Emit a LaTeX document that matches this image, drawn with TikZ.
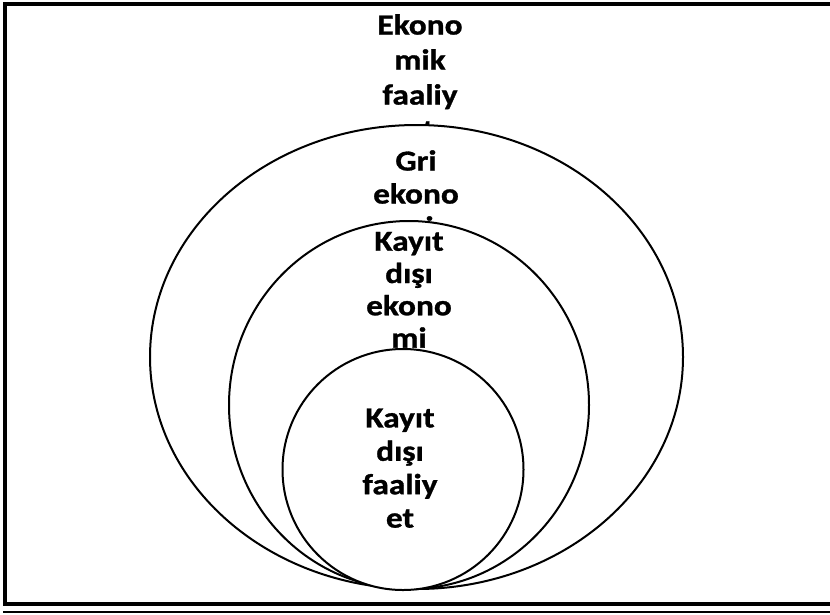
\documentclass[tikz,border=0pt]{standalone}
\usepackage{fontspec}
\setmainfont{Carlito}[BoldFeatures={FakeStretch=1.15,FakeBold=1}]
\begin{document}
\begin{tikzpicture}[x=1pt,y=-1pt,
  ell/.style={draw, line width=2pt, fill=white},
  lbl/.style={font=\bfseries\fontsize{29}{33.4}\selectfont, align=center, inner sep=0pt, anchor=north},
  frame/.style={line width=4pt}]
\useasboundingbox (0,0) rectangle (830,614);
\draw[frame] (834,4) -- (5,4) -- (5,603.7) -- (834,603.7);
\draw[line width=2pt] (3,612) -- (834,612);
\node[lbl, font=\bfseries\fontsize{29}{35}\selectfont] (t1) at (420,14) {Ekono\\mik\\faaliy\\et};
\draw[ell] (416.5,357) ellipse [x radius=266.5, y radius=232];
\node[lbl, font=\bfseries\fontsize{29}{33}\selectfont] (t2) at (416,150) {Gri\\ekono\\mi};
\draw[ell] (409,405) ellipse [x radius=180, y radius=184];
\node[lbl, font=\bfseries\fontsize{29}{32.3}\selectfont] (t3) at (409,231.7) {Kayıt\\dışı\\ekono\\mi};
\draw[ell] (403,469.5) circle [radius=120.5];
\node[lbl] (t4) at (400,408.4) {Kayıt\\dışı\\faaliy\\et};
\end{tikzpicture}
\end{document}
